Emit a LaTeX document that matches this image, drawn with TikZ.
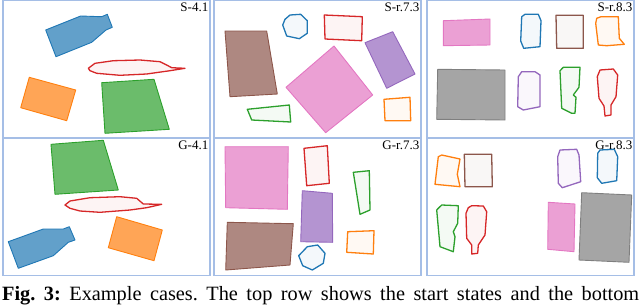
\documentclass[tikz,border=0pt]{standalone}
\usepackage{fontspec}
\setmainfont{Liberation Serif}
\usepackage{tikz}
\definecolor{TabBlue}{RGB}{31,119,180}
\definecolor{TabOrange}{RGB}{255,127,14}
\definecolor{TabGreen}{RGB}{44,160,44}
\definecolor{TabRed}{RGB}{214,39,40}
\definecolor{TabPurple}{RGB}{148,103,189}
\definecolor{TabBrown}{RGB}{140,86,75}
\definecolor{TabPink}{RGB}{227,119,194}
\definecolor{TabGray}{RGB}{127,127,127}
\definecolor{FrameBlue}{RGB}{165,190,230}
\tikzset{
  panelframe/.style={draw=FrameBlue, line width=1.2pt},
  caselabel/.style={anchor=north east, inner sep=1pt, font=\fontsize{13}{13}\selectfont},
  solidpart/.style={draw=#1, fill=#1, fill opacity=0.7, line width=0.9pt, line join=round},
  hollowpart/.style={draw=#1, fill=#1!5, line width=1.3pt, line join=round},
  captext/.style={anchor=base west, inner sep=0pt, font=\fontsize{20.3}{21}\selectfont\frenchspacing},
}
\begin{document}
\begin{tikzpicture}[x=1pt, y=-1pt]
  \useasboundingbox (0,0) rectangle (640,306);
  \clip (0,0) rectangle (640,306);
  % panel frames and case labels
  \foreach \px/\py/\lab/\nm in {3/0.6/S-4.1/ls1, 214/0.6/S-r.7.3/ls2, 427/0.6/S-r.8.3/ls3,
      3/138.6/G-4.1/lg1, 214/138.6/G-r.7.3/lg2, 427/138.6/G-r.8.3/lg3} {
    \draw[panelframe] (\px,\py) rectangle ++(207,137);
    \node[caselabel] (\nm) at (\px+206.5,\py+1) {\lab};
  }
  % S-4.1
  \draw[solidpart=TabBlue] (45.7,30) -- (80.7,16) -- (101.7,16.7) -- (107.3,14.3) -- (112.3,27.3)
    -- (106,30) -- (91.7,42.3) -- (56,56.7) -- cycle;
  \draw[hollowpart=TabRed] (88.3,68.3) -- (95,63.3) -- (113.3,60.7) -- (140,60) -- (160,61.7)
    -- (166.7,65) -- (171.7,67.7) -- (185,68.3) -- (170,70.7) -- (146.7,74) -- (120,75.3)
    -- (96.7,73.3) -- (90,70.7) -- cycle;
  \draw[solidpart=TabOrange] (29.3,77.3) -- (75.7,90) -- (66.7,120.7) -- (20.7,107.7) -- cycle;
  \draw[solidpart=TabGreen] (101.7,82.7) -- (154,79.3) -- (169.3,129.3) -- (105,133.3) -- cycle;
  % S-r.7.3
  \draw[hollowpart=TabBlue] (285,19.3) -- (290,15) -- (300.7,14.3) -- (307.3,20.7) -- (307.3,33.3)
    -- (299.3,38.7) -- (286.7,36) -- (282.7,25) -- cycle;
  \draw[hollowpart=TabRed] (324.3,15) -- (362.3,16.7) -- (361.7,40.7) -- (325,39) -- cycle;
  \draw[solidpart=TabBrown] (225,31) -- (266.7,31) -- (277.3,94) -- (230,96.7) -- cycle;
  \draw[solidpart=TabPink] (334,46) -- (372.7,95) -- (325.7,132.7) -- (286,87.3) -- cycle;
  \draw[solidpart=TabPurple] (365,42.7) -- (392.7,31.7) -- (415,74) -- (386.7,88.3) -- cycle;
  \draw[hollowpart=TabGreen] (247.3,109.3) -- (289.3,105) -- (290.7,122) -- (251.7,120) -- cycle;
  \draw[hollowpart=TabOrange] (384,99.3) -- (410,97.3) -- (410.7,120.7) -- (385,120.7) -- cycle;
  % S-r.8.3
  \draw[solidpart=TabPink] (443.3,20.7) -- (490,19) -- (490,45) -- (443.3,45.7) -- cycle;
  \draw[hollowpart=TabBlue] (521.7,16.7) -- (525,14.3) -- (538.3,14.3) -- (541,20.7) -- (540,46.7)
    -- (523.7,48.3) -- (520.7,41) -- cycle;
  \draw[hollowpart=TabBrown] (556,15.3) -- (583.3,15.3) -- (583.3,48.3) -- (556.7,48.3) -- cycle;
  \draw[hollowpart=TabOrange] (596.7,18.3) -- (601,16.7) -- (618.3,16.7) -- (619.3,38.3)
    -- (624.3,44.3) -- (606.7,45.7) -- (598.3,45) -- (595.7,23.3) -- cycle;
  \draw[solidpart=TabGray] (437.7,69.3) -- (505,70) -- (505,120) -- (436.7,119.3) -- cycle;
  \draw[hollowpart=TabPurple] (521.7,71.7) -- (535,71.7) -- (540,75) -- (540,106.7) -- (523.3,110)
    -- (517.7,106.7) -- (518.3,76.7) -- cycle;
  \draw[hollowpart=TabGreen] (560,70.7) -- (563.3,67.3) -- (580,67.3) -- (579,87.3) -- (573.3,95)
    -- (576,97.3) -- (575,113.3) -- (571.7,113.3) -- (561.7,108.3) -- cycle;
  \draw[hollowpart=TabRed] (600,70) -- (613.3,69) -- (617.7,75) -- (616,96.7) -- (611,105)
    -- (611,115) -- (605,116) -- (604,106) -- (599,98.3) -- (597.3,76.7) -- cycle;
  % G-4.1
  \draw[solidpart=TabGreen] (51,144.3) -- (103.3,140.3) -- (118.3,190) -- (55,194.3) -- cycle;
  \draw[hollowpart=TabRed] (65,205) -- (70,201) -- (90,197.7) -- (120,196.7) -- (136.7,198.3)
    -- (143.3,204) -- (161.7,204.3) -- (146.7,207.7) -- (130,210) -- (100,212.3) -- (80,211)
    -- (70,208.3) -- cycle;
  \draw[solidpart=TabBlue] (8.3,241.7) -- (43.3,229) -- (63.3,229) -- (69.3,226.7) -- (75,240)
    -- (68.3,242.3) -- (53.3,255.7) -- (18.3,268.3) -- cycle;
  \draw[solidpart=TabOrange] (116.7,216.7) -- (162.3,230) -- (154,260.7) -- (108.3,247.7) -- cycle;
  % G-r.7.3
  \draw[solidpart=TabPink] (225,146.7) -- (288.3,146.7) -- (287.3,209.3) -- (225.7,207.7) -- cycle;
  \draw[hollowpart=TabRed] (304,148.3) -- (327.3,145.7) -- (329.3,183.3) -- (306.7,185.7) -- cycle;
  \draw[hollowpart=TabGreen] (353.3,172.3) -- (369.3,170.7) -- (370,210) -- (360,214.3) -- cycle;
  \draw[solidpart=TabPurple] (302.3,190.7) -- (332.3,193.3) -- (332.7,242.3) -- (300.7,241.7) -- cycle;
  \draw[solidpart=TabBrown] (227.3,222.3) -- (293.3,223.7) -- (290,265) -- (225.7,270) -- cycle;
  \draw[hollowpart=TabOrange] (347.7,231.7) -- (374,230.7) -- (373.3,254) -- (346.7,252.3) -- cycle;
  \draw[hollowpart=TabBlue] (307.3,246.7) -- (317.7,245) -- (325,253.3) -- (323.3,263.3)
    -- (312.3,270) -- (302.7,265.7) -- (298.7,255.7) -- cycle;
  % G-r.8.3
  \draw[hollowpart=TabOrange] (438.3,156.7) -- (441.7,155) -- (460,159) -- (457.3,174.3)
    -- (460,186.7) -- (435,184.3) -- cycle;
  \draw[hollowpart=TabBrown] (464.3,154.3) -- (491.7,154.3) -- (492.3,186.7) -- (465,186.7) -- cycle;
  \draw[hollowpart=TabPurple] (560,150) -- (576.7,149.3) -- (579,155) -- (580.7,181.7)
    -- (562.3,187.7) -- (558.3,183.3) -- (557.7,156.7) -- cycle;
  \draw[hollowpart=TabBlue] (600,150) -- (614.3,149.3) -- (617.7,156.7) -- (616.7,180.7)
    -- (601.7,183.3) -- (597.3,177.7) -- (597.7,153.3) -- cycle;
  \draw[hollowpart=TabGreen] (438.3,208.3) -- (441.7,205) -- (458.3,205.7) -- (457.7,223.3)
    -- (453.3,231.7) -- (455,236.7) -- (453.3,251.7) -- (440,246.7) -- (436.7,210) -- cycle;
  \draw[hollowpart=TabRed] (468.3,207.7) -- (471.7,205.7) -- (483.3,206) -- (486.7,211.7)
    -- (485,235) -- (478.3,245) -- (477.7,253.3) -- (471.7,254) -- (471.7,245) -- (466.7,238.3)
    -- (466,213.3) -- cycle;
  \draw[solidpart=TabPink] (548.3,202.3) -- (575,204) -- (574,251.7) -- (547.7,249.3) -- cycle;
  \draw[solidpart=TabGray] (581.7,192.7) -- (631.7,195) -- (629,262.3) -- (579,260) -- cycle;
  % caption
  \node[captext] (caption) at (2,300)
    {\makebox[637pt][s]{\textbf{Fig. 3:} Example cases. The top row shows the start states and the bottom}};
\end{tikzpicture}
\end{document}
